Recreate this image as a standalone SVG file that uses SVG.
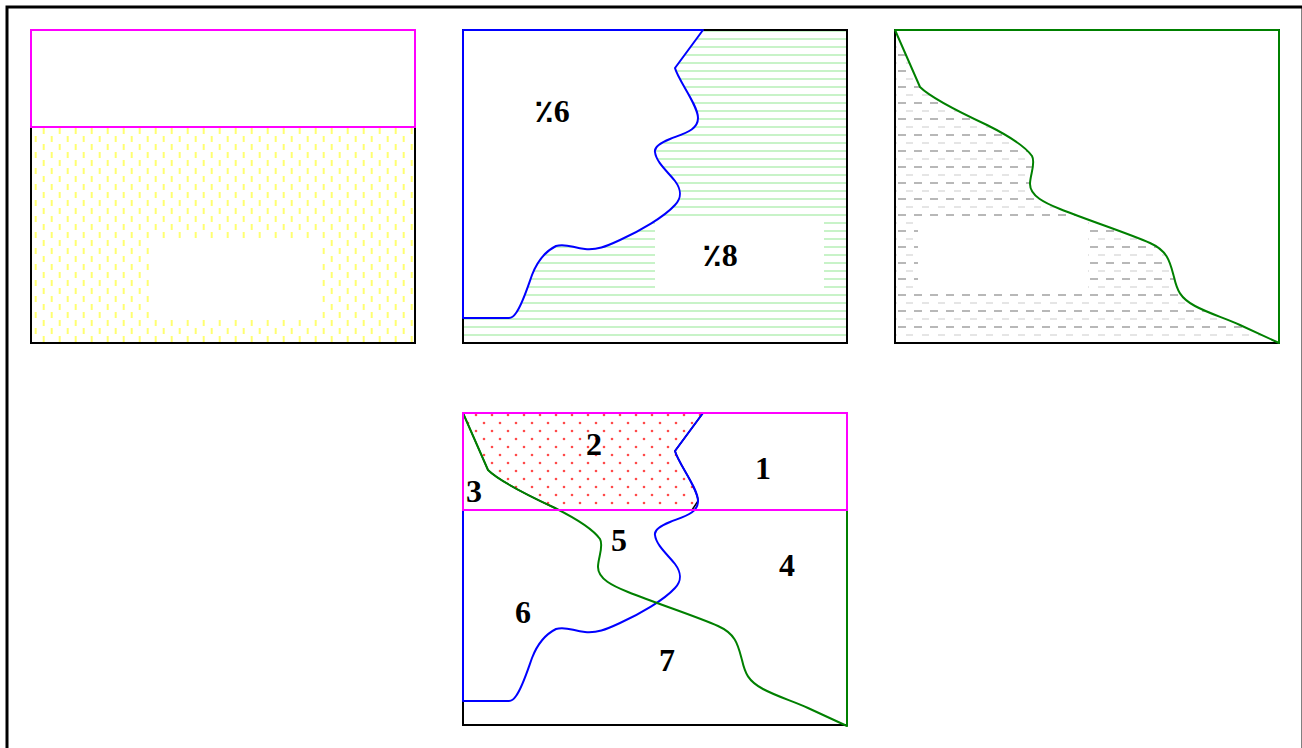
<svg xmlns="http://www.w3.org/2000/svg" width="1302" height="748" viewBox="0 0 1302 748">
<style>
.frame{fill:#fff;stroke:#000;stroke-width:3}
.box{fill:none;stroke:#000;stroke-width:2}
.mag{fill:none;stroke:#ff00ff;stroke-width:2}
.blue{stroke:#0000ff;stroke-width:2;stroke-linejoin:round}
.green{stroke:#008000;stroke-width:2;stroke-linejoin:round}
.hole{fill:#fff}
.lbl{font-family:"Liberation Serif","DejaVu Sans",serif;font-weight:bold;font-size:32px;text-anchor:middle;fill:#000}
</style>
<defs>
<pattern id="pYellow" patternUnits="userSpaceOnUse" x="32" y="126" width="16" height="16">
<rect x="10.7" y="2" width="2" height="6" fill="#ffff70"/>
<rect x="2.7" y="10" width="2" height="6" fill="#ffff70"/>
</pattern>
<pattern id="pGreen" patternUnits="userSpaceOnUse" x="0" y="38" width="16" height="8">
<rect x="0" y="0" width="16" height="2" fill="#c8f3c8"/>
</pattern>
<pattern id="pGray" patternUnits="userSpaceOnUse" x="897" y="51" width="16" height="16">
<rect x="1" y="3" width="8" height="2" fill="#b8b8b8"/>
<rect x="9" y="11.5" width="7" height="1" fill="#cccccc"/>
</pattern>
<pattern id="pRed" patternUnits="userSpaceOnUse" x="480" y="419" width="16" height="16">
<circle cx="4" cy="4" r="1.3" fill="#ff4a4a"/>
<circle cx="12" cy="12" r="1.3" fill="#ff4a4a"/>
</pattern>
<path id="bluePoly" d="M463,30 L703,30 L675,68 C678,80 698,105 698,118 C698,130 685,133 670,139 C660,143 654,147 655,152 C656,162 668,172 675,181 C681,189 682,198 675,205 C664,217 640,231 620,240 C605,247 597,250 585,249 C573,248 566,243 556,246 C546,251 537,262 532,275 C526,292 522,305 516,313 C514,316 512,318 509,318 L463,318 Z"/>
<path id="greenPoly" d="M895,30 L920,87 C930,97 957,111 987,125 C1005,134 1025,146 1032,156 C1036,163 1030,175 1030,184 C1030,196 1045,203 1060,209 C1090,221 1130,234 1150,243 C1168,251 1170,262 1174,277 C1177,290 1180,298 1195,306 C1210,314 1225,318 1240,325 L1279,343 L1279,30 Z"/>
</defs>
<rect class="frame" x="7" y="7" width="1296" height="800"/>
<g id="panel1">
<rect x="31" y="127" width="384" height="216" fill="url(#pYellow)"/>
<rect class="hole" x="149.5" y="239" width="172" height="80"/>
<rect class="box" x="31" y="30" width="384" height="313"/>
<rect class="mag" x="31" y="30" width="384" height="97"/>
</g>
<g id="panel2">
<rect x="463" y="30" width="384" height="313" fill="url(#pGreen)"/>
<rect class="hole" x="655" y="219" width="169" height="74"/>
<rect class="box" x="463" y="30" width="384" height="313"/>
<use href="#bluePoly" class="blue" fill="#fff"/>
<text class="lbl" x="552" y="122">٪6</text>
<text class="lbl" x="720" y="266">٪8</text>
</g>
<g id="panel3">
<rect x="895" y="30" width="384" height="313" fill="url(#pGray)"/>
<rect class="hole" x="918" y="219" width="170" height="74"/>
<rect class="box" x="895" y="30" width="384" height="313"/>
<use href="#greenPoly" class="green" fill="#fff"/>
</g>
<g id="panel4">
<path d="M463,413 L703,413 L675,451 C678,463 698,488 698,501 L692,510 L558,510 L555,508 C525,494 498,480 488,470 Z" fill="url(#pRed)" stroke="#000" stroke-width="1.5"/>
<rect class="box" x="463" y="413" width="384" height="312"/>
<use href="#bluePoly" class="blue" fill="none" transform="translate(0,383)"/>
<use href="#greenPoly" class="green" fill="none" transform="translate(-432,383)"/>
<rect class="mag" x="463" y="413" width="384" height="97"/>
<text class="lbl" x="763" y="479">1</text>
<text class="lbl" x="594" y="455">2</text>
<text class="lbl" x="474" y="502">3</text>
<text class="lbl" x="787" y="576">4</text>
<text class="lbl" x="619" y="551">5</text>
<text class="lbl" x="523" y="623">6</text>
<text class="lbl" x="667" y="671">7</text>
</g>
</svg>
